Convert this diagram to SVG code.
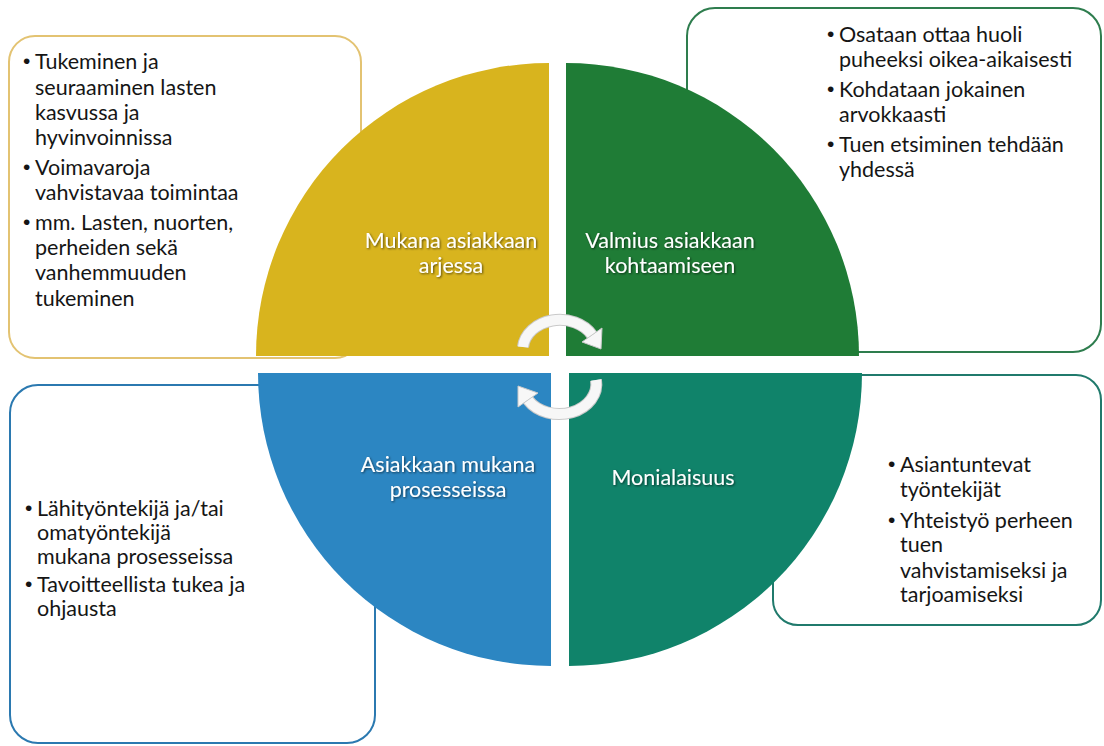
<svg xmlns="http://www.w3.org/2000/svg" width="1104" height="746" viewBox="0 0 1104 746">
<style>
.box{fill:#fff;stroke-width:2}
.t{font-family:Lato,"Liberation Sans",sans-serif;font-size:21.5px;fill:#151515}
.b{font-family:"Liberation Sans",sans-serif;font-size:21px;fill:#151515}
.q{font-family:Lato,"Liberation Sans",sans-serif;font-size:21.5px;fill:#fff;text-anchor:middle}
.arr{fill:none;stroke:#f7f7f7;stroke-width:10}
.arrs{fill:none;stroke:#c9c9c9;stroke-width:12}
</style>
<defs>
<filter id="sh" x="-10%" y="-30%" width="120%" height="160%">
<feDropShadow dx="1" dy="1" stdDeviation="1" flood-color="#000" flood-opacity="0.6"/>
</filter>
</defs>
<g id="box-yellow"><rect class="box" x="9" y="36" width="352" height="322" rx="26" stroke="#E3C372"/></g>
<g id="box-green"><rect class="box" x="687" y="8" width="414" height="344" rx="28" stroke="#2E7D4E"/></g>
<g id="box-blue"><rect class="box" x="10" y="385" width="365" height="358" rx="28" stroke="#2B79B0"/></g>
<g id="box-teal"><rect class="box" x="773" y="375" width="328" height="250" rx="25" stroke="#207A6C"/></g>

<g id="q-yellow"><path d="M549,356 L256,356 A293,293 0 0 1 549,63 Z" fill="#D8B41E"/>
<text class="q" filter="url(#sh)"><tspan x="451" y="248">Mukana asiakkaan</tspan><tspan x="451" y="273">arjessa</tspan></text></g>
<g id="q-green"><path d="M566,356 L566,63 A293,293 0 0 1 859,356 Z" fill="#1F7C36"/>
<text class="q" filter="url(#sh)"><tspan x="670" y="248">Valmius asiakkaan</tspan><tspan x="670" y="273">kohtaamiseen</tspan></text></g>
<g id="q-blue"><path d="M551,373 L551,666 A293,293 0 0 1 258,373 Z" fill="#2C86C2"/>
<text class="q" filter="url(#sh)"><tspan x="448" y="472">Asiakkaan mukana</tspan><tspan x="448" y="497">prosesseissa</tspan></text></g>
<g id="q-teal"><path d="M569,373 L862,373 A293,293 0 0 1 569,666 Z" fill="#10836A"/>
<text class="q" filter="url(#sh)"><tspan x="673" y="485">Monialaisuus</tspan></text></g>

<g id="connectors">
<path class="arrs" d="M523,347 A37,30 0 0 1 592,335"/>
<path class="arr" d="M523,347 A37,30 0 0 1 592,335"/>
<polygon points="602,328 582,342 601,349" fill="#f7f7f7" stroke="#c9c9c9" stroke-width="1"/>
<path class="arrs" d="M596,380 A37,30 0 0 1 528,400"/>
<path class="arr" d="M596,380 A37,30 0 0 1 528,400"/>
<polygon points="538,393 518,407 518,386" fill="#f7f7f7" stroke="#c9c9c9" stroke-width="1"/>
</g>

<g id="text-yellow">
<text class="b" x="23" y="68">•</text><text class="t" x="35" y="69">Tukeminen ja</text>
<text class="t" x="35" y="95">seuraaminen lasten</text>
<text class="t" x="35" y="120">kasvussa ja</text>
<text class="t" x="35" y="145">hyvinvoinnissa</text>
<text class="b" x="23" y="174">•</text><text class="t" x="35" y="175">Voimavaroja</text>
<text class="t" x="35" y="200">vahvistavaa toimintaa</text>
<text class="b" x="23" y="229">•</text><text class="t" x="35" y="230">mm. Lasten, nuorten,</text>
<text class="t" x="35" y="255">perheiden sekä</text>
<text class="t" x="35" y="280">vanhemmuuden</text>
<text class="t" x="35" y="306">tukeminen</text>
</g>
<g id="text-green">
<text class="b" x="827" y="41">•</text><text class="t" x="839" y="42">Osataan ottaa huoli</text>
<text class="t" x="839" y="67">puheeksi oikea-aikaisesti</text>
<text class="b" x="827" y="96">•</text><text class="t" x="839" y="97">Kohdataan jokainen</text>
<text class="t" x="839" y="122">arvokkaasti</text>
<text class="b" x="827" y="151">•</text><text class="t" x="839" y="152">Tuen etsiminen tehdään</text>
<text class="t" x="839" y="177">yhdessä</text>
</g>
<g id="text-blue">
<text class="b" x="25" y="515">•</text><text class="t" x="37" y="516">Lähityöntekijä ja/tai</text>
<text class="t" x="37" y="540">omatyöntekijä</text>
<text class="t" x="37" y="564">mukana prosesseissa</text>
<text class="b" x="25" y="591">•</text><text class="t" x="37" y="592">Tavoitteellista tukea ja</text>
<text class="t" x="37" y="616">ohjausta</text>
</g>
<g id="text-teal">
<text class="b" x="888" y="471">•</text><text class="t" x="900" y="472">Asiantuntevat</text>
<text class="t" x="900" y="497">työntekijät</text>
<text class="b" x="888" y="527">•</text><text class="t" x="900" y="528">Yhteistyö perheen</text>
<text class="t" x="900" y="552">tuen</text>
<text class="t" x="900" y="578">vahvistamiseksi ja</text>
<text class="t" x="900" y="602">tarjoamiseksi</text>
</g>
</svg>
